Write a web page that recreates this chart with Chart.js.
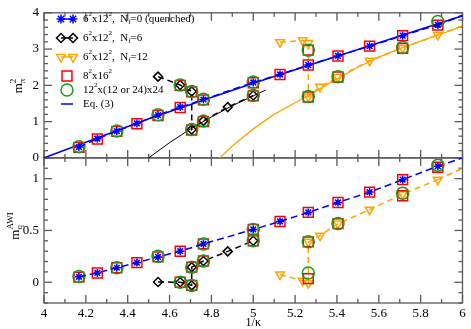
<!DOCTYPE html>
<html>
<head>
<meta charset="utf-8">
<script src="https://cdn.jsdelivr.net/npm/chart.js@4"></script>
<style>
html, body { margin: 0; padding: 0; background: #fff; }
#wrap { width: 471px; height: 329px; position: relative; }
</style>
</head>
<body>
<div id="wrap"><canvas id="c"></canvas></div>
<script>
// axis ticks
const xTicks = [4, 4.2, 4.4, 4.6, 4.8, 5, 5.2, 5.4, 5.6, 5.8, 6];
const xTickLabels = ['4', '4.2', '4.4', '4.6', '4.8', '5', '5.2', '5.4', '5.6', '5.8', '6'];
const yTopTicks = [0, 1, 2, 3, 4];
const yBotTicks = [0, 0.5, 1];
const yBotTickLabels = ['0', '0.5', '1'];

// 6^2x12^2, Nf=0 (quenched)
const xQ = [4.167, 4.255, 4.348, 4.444, 4.545, 4.651, 4.762, 5.0, 5.128, 5.263, 5.405, 5.556, 5.714, 5.882];
const mpiQ = [0.30, 0.53, 0.74, 0.95, 1.18, 1.40, 1.61, 2.08, 2.30, 2.56, 2.81, 3.08, 3.37, 3.67];
const mqQ = [0.053, 0.09, 0.14, 0.19, 0.245, 0.30, 0.37, 0.51, 0.587, 0.674, 0.77, 0.87, 0.99, 1.12];
// dashed continuation to the edge
const xQext = [5.882, 6.0];
const mpiQext = [3.67, 3.93];
const mqQext = [1.12, 1.20];

// 6^2x12^2, Nf=6
const x6 = [4.545, 4.651, 4.706, 4.706, 4.762, 4.878, 5.0];
const mpi6 = [2.24, 2.01, 1.83, 0.78, 1.02, 1.40, 1.72];
const mq6 = [0.003, 0.0, -0.03, 0.146, 0.205, 0.298, 0.40];
// solid curve for Nf=6
const x6fit = [4.50, 4.60, 4.70, 4.80, 4.90, 5.00, 5.06];
const mpi6fit = [0.0, 0.42, 0.80, 1.13, 1.44, 1.71, 1.87];

// 6^2x12^2, Nf=12
const x12 = [5.128, 5.236, 5.263, 5.263, 5.319, 5.405, 5.556, 5.714, 5.882];
const mpi12 = [3.19, 3.24, 3.17, 1.69, 1.96, 2.23, 2.68, 3.03, 3.39];
const mq12 = [0.075, 0.015, -0.01, 0.39, 0.45, 0.566, 0.70, 0.85, 0.99];
const x12ext = [5.882, 6.0];
const mpi12ext = [3.39, 3.64];
const mq12ext = [0.99, 1.10];
// solid curve for Nf=12
const x12fit = [4.84, 4.90, 5.00, 5.10, 5.20, 5.30, 5.40, 5.50, 5.60, 5.70, 5.80, 5.90, 6.00];
const mpi12fit = [0.0, 0.33, 0.80, 1.20, 1.52, 1.84, 2.18, 2.50, 2.78, 3.01, 3.22, 3.42, 3.64];

// 8^2x16^2
const x8 = [4.167, 4.255, 4.348, 4.444, 4.545, 4.651, 4.762, 5.0, 5.128, 5.263, 5.405, 5.556, 5.714, 5.882,
            4.651, 4.706, 4.706, 4.762, 5.0, 5.263, 5.263, 5.405, 5.714];
const mpi8 = [0.29, 0.52, 0.73, 0.94, 1.17, 1.39, 1.60, 2.07, 2.30, 2.56, 2.81, 3.08, 3.37, 3.66,
              2.00, 1.82, 0.77, 1.00, 1.71, 2.97, 1.68, 2.23, 3.02];
const mq8 = [0.05, 0.09, 0.14, 0.19, 0.245, 0.30, 0.37, 0.51, 0.587, 0.674, 0.77, 0.87, 0.99, 1.11,
             0.0, -0.03, 0.146, 0.205, 0.40, 0.035, 0.39, 0.566, 0.835];

// 12^2x(12 or 24)x24
const xL = [4.167, 4.348, 4.545, 4.762, 5.0, 5.882, 4.651, 4.706, 4.706, 4.762, 5.0, 5.263, 5.263, 5.405, 5.714];
const mpiL = [0.31, 0.74, 1.19, 1.62, 2.09, 3.76, 2.01, 1.83, 0.78, 1.02, 1.72, 2.97, 1.69, 2.24, 3.04];
const mqL = [0.055, 0.14, 0.25, 0.37, 0.51, 1.13, 0.0, -0.03, 0.146, 0.205, 0.40, 0.09, 0.39, 0.566, 0.86];

// Eq. (3)
const xEq = [4.0, 4.5, 5.0, 5.5, 6.0];
const mpiEq = [0.0, 1.08, 2.06, 2.99, 3.92];

const BLUE = '#0000ff', RED = '#ff0000', GREEN = '#1c9c1c', ORANGE = '#ffa500', BLACK = '#000000';
const SERIF = '"Liberation Serif", "DejaVu Serif", serif';

function pts(xs, ys) {
  return xs.map((x, i) => ({ x: x, y: ys[i] }));
}

function lineSet(xs, ys, axis, color, dash, width, order) {
  return {
    data: pts(xs, ys), yAxisID: axis, showLine: true, borderColor: color,
    borderWidth: width, borderDash: dash, pointRadius: 0, order: order, tension: 0
  };
}

function markSet(xs, ys, axis, color, style, r, order, rot, line, dash) {
  return {
    data: pts(xs, ys), yAxisID: axis, showLine: !!line, borderColor: color,
    borderWidth: 1.5, borderDash: dash || [], pointStyle: style, pointRadius: r,
    pointBorderColor: color, pointBackgroundColor: 'rgba(0,0,0,0)', pointBorderWidth: 1.5,
    pointRotation: rot || 0, order: order
  };
}

const datasets = [
  // top panel
  lineSet(x6fit, mpi6fit, 'yTop', BLACK, [], 1, 20),
  lineSet(x12fit, mpi12fit, 'yTop', ORANGE, [], 1.3, 20),
  lineSet(xEq, mpiEq, 'yTop', BLUE, [], 1.5, 19),
  lineSet(xQext, mpiQext, 'yTop', BLUE, [7, 4], 2, 18),
  lineSet(x12ext, mpi12ext, 'yTop', ORANGE, [6, 4], 1.5, 18),
  markSet(xQ, mpiQ, 'yTop', BLUE, 'star', 4, 4, 0, true, [7, 4]),
  markSet(x6, mpi6, 'yTop', BLACK, 'rectRot', 4.5, 7, 0, true, [6, 4]),
  markSet(x12, mpi12, 'yTop', ORANGE, 'triangle', 5, 7, 180, true, [6, 4]),
  markSet(x8, mpi8, 'yTop', RED, 'rect', 7, 6),
  markSet(xL, mpiL, 'yTop', GREEN, 'circle', 6, 5),
  // bottom panel
  lineSet(xQext, mqQext, 'yBot', BLUE, [7, 4], 1.5, 18),
  lineSet(x12ext, mq12ext, 'yBot', ORANGE, [6, 4], 1.5, 18),
  markSet(xQ, mqQ, 'yBot', BLUE, 'star', 4, 4, 0, true, [7, 4]),
  markSet(x6, mq6, 'yBot', BLACK, 'rectRot', 4.5, 7, 0, true, [6, 4]),
  markSet(x12, mq12, 'yBot', ORANGE, 'triangle', 5, 7, 180, true, [6, 4]),
  markSet(x8, mq8, 'yBot', RED, 'rect', 7, 6),
  markSet(xL, mqL, 'yBot', GREEN, 'circle', 6, 5)
];

// text with sub/superscripts
function partFont(p, size) {
  return ((p.sup || p.sub) ? Math.round(size * 0.68) : size) + 'px ' + SERIF;
}

function richWidth(ctx, parts, size) {
  let w = 0, prevW = 0;
  parts.forEach(p => {
    ctx.font = partFont(p, size);
    const pw = ctx.measureText(p.t).width;
    if (p.over) {
      w += Math.max(prevW, pw) - prevW;
      prevW = Math.max(prevW, pw);
    } else {
      w += pw;
      prevW = pw;
    }
  });
  return w;
}

function drawRich(ctx, parts, x, y, size, align) {
  let cx = align === 'center' ? x - richWidth(ctx, parts, size) / 2 : x;
  let prevStart = cx, prevW = 0;
  ctx.textBaseline = 'middle';
  ctx.textAlign = 'left';
  parts.forEach(p => {
    ctx.font = partFont(p, size);
    const pw = ctx.measureText(p.t).width;
    const dy = p.sup ? -size * 0.45 : (p.sub ? size * 0.3 : 0);
    if (p.over) {
      ctx.fillText(p.t, prevStart, y + dy);
      cx = prevStart + Math.max(prevW, pw);
      prevW = Math.max(prevW, pw);
    } else {
      ctx.fillText(p.t, cx, y + dy);
      prevStart = cx;
      prevW = pw;
      cx += pw;
    }
  });
}

const lat6 = [{ t: '6' }, { t: '2', sup: true }, { t: 'x12' }, { t: '2', sup: true }, { t: ',  N' }, { t: 'f', sub: true }];
const legendRows = [
  { y: 19, parts: lat6.concat([{ t: '=0 (quenched)' }]), color: BLUE, style: 'star', r: 4.5, pair: true },
  { y: 38, parts: lat6.concat([{ t: '=6' }]), color: BLACK, style: 'rectRot', r: 4.5, pair: true },
  { y: 57, parts: lat6.concat([{ t: '=12' }]), color: ORANGE, style: 'triangle', r: 5, rot: 180, pair: true },
  { y: 76, parts: [{ t: '8' }, { t: '2', sup: true }, { t: 'x16' }, { t: '2', sup: true }], color: RED, style: 'rect', r: 7 },
  { y: 90, parts: [{ t: '12' }, { t: '2', sup: true }, { t: 'x(12 or 24)x24' }], color: GREEN, style: 'circle', r: 6 },
  { y: 104, parts: [{ t: 'Eq. (3)' }], color: BLUE, lineOnly: true }
];

const framePlugin = {
  id: 'frame',
  beforeDatasetsDraw(chart) {
    const ctx = chart.ctx, a = chart.chartArea, sx = chart.scales.x;
    const line = (x1, y1, x2, y2) => { ctx.beginPath(); ctx.moveTo(x1, y1); ctx.lineTo(x2, y2); ctx.stroke(); };
    ctx.save();
    ctx.strokeStyle = '#5a5a5a';
    ctx.lineWidth = 1.3;
    const panels = [
      { s: chart.scales.yTop, lo: 0, hi: 4, step: 0.2, isMajor: v => Math.abs(v - Math.round(v)) < 1e-6 },
      { s: chart.scales.yBot, lo: -0.2, hi: 1.2, step: 0.1, isMajor: v => Math.abs(v * 2 - Math.round(v * 2)) < 1e-6 }
    ];
    panels.forEach(p => {
      const s = p.s;
      ctx.strokeRect(a.left, s.top, a.right - a.left, s.bottom - s.top);
      for (let k = 0; k <= 20; k++) {
        const px = sx.getPixelForValue(4 + k * 0.1);
        const L = k % 2 === 0 ? 8 : 4;
        line(px, s.top, px, s.top + L);
        line(px, s.bottom, px, s.bottom - L);
      }
      const n = Math.round((p.hi - p.lo) / p.step);
      for (let k = 0; k <= n; k++) {
        const v = p.lo + k * p.step;
        const py = s.getPixelForValue(v);
        const L = p.isMajor(v) ? 8 : 4;
        line(a.left, py, a.left + L, py);
        line(a.right, py, a.right - L, py);
      }
    });
    ctx.restore();
  },
  afterDraw(chart) {
    const ctx = chart.ctx, a = chart.chartArea;
    ctx.save();
    ctx.fillStyle = '#000';
    // legend
    legendRows.forEach(row => {
      ctx.strokeStyle = row.color;
      ctx.lineWidth = 1.5;
      if (row.lineOnly) {
        ctx.beginPath(); ctx.moveTo(61, row.y); ctx.lineTo(73, row.y); ctx.stroke();
      } else if (row.pair) {
        ctx.beginPath(); ctx.moveTo(61, row.y); ctx.lineTo(73, row.y); ctx.stroke();
        [61, 73].forEach(px => {
          ctx.fillStyle = 'rgba(0,0,0,0)';
          Chart.helpers.drawPoint(ctx, { pointStyle: row.style, radius: row.r, rotation: row.rot || 0, borderWidth: 1.5 }, px, row.y);
        });
      } else {
        ctx.fillStyle = 'rgba(0,0,0,0)';
        Chart.helpers.drawPoint(ctx, { pointStyle: row.style, radius: row.r, rotation: 0, borderWidth: 1.5 }, 67, row.y);
      }
      ctx.fillStyle = '#000';
      drawRich(ctx, row.parts, 83, row.y, 11, 'left');
    });
    // axis titles
    ctx.save();
    ctx.translate(19, 86);
    ctx.rotate(-Math.PI / 2);
    drawRich(ctx, [{ t: 'm' }, { t: 'π', sub: true }, { t: '2', sup: true, over: true }], 0, 0, 13, 'center');
    ctx.restore();
    ctx.save();
    ctx.translate(16, 226);
    ctx.rotate(-Math.PI / 2);
    drawRich(ctx, [{ t: 'm' }, { t: 'q', sub: true }, { t: 'AWI', sup: true, over: true }], 0, 0, 13, 'center');
    ctx.restore();
    drawRich(ctx, [{ t: '1/κ' }], (a.left + a.right) / 2, 323, 12, 'center');
    ctx.restore();
  }
};

const tickFont = { family: SERIF, size: 13 };

new Chart(document.getElementById('c'), {
  type: 'scatter',
  data: { datasets: datasets },
  options: {
    responsive: true,
    maintainAspectRatio: false,
    animation: false,
    devicePixelRatio: 1,
    layout: { padding: { top: 0, right: 4, left: 0, bottom: 0 } },
    plugins: { legend: { display: false }, tooltip: { enabled: false } },
    scales: {
      x: {
        type: 'linear', position: 'bottom', min: 4, max: 6,
        grid: { display: false, drawTicks: false }, border: { display: false },
        ticks: { font: tickFont, color: '#000', padding: 3, autoSkip: false, maxRotation: 0,
                 callback: (v, i) => xTickLabels[i] },
        afterBuildTicks: s => { s.ticks = xTicks.map(v => ({ value: v })); },
        afterFit: s => { s.height = 26; }
      },
      yBot: {
        type: 'linear', position: 'left', stack: 'panels', stackWeight: 1, weight: 0,
        min: -0.2, max: 1.2,
        grid: { display: false, drawTicks: false }, border: { display: false },
        ticks: { font: tickFont, color: '#000', padding: 5, autoSkip: false,
                 callback: (v, i) => yBotTickLabels[i] },
        afterBuildTicks: s => { s.ticks = yBotTicks.map(v => ({ value: v })); },
        afterFit: s => { s.width = 44; }
      },
      yTop: {
        type: 'linear', position: 'left', stack: 'panels', stackWeight: 1, weight: 1,
        min: 0, max: 4,
        grid: { display: false, drawTicks: false }, border: { display: false },
        ticks: { font: tickFont, color: '#000', padding: 5, autoSkip: false,
                 callback: (v, i) => String(yTopTicks[i]) },
        afterBuildTicks: s => { s.ticks = yTopTicks.map(v => ({ value: v })); },
        afterFit: s => { s.width = 44; }
      }
    }
  },
  plugins: [framePlugin]
});
</script>
</body>
</html>
